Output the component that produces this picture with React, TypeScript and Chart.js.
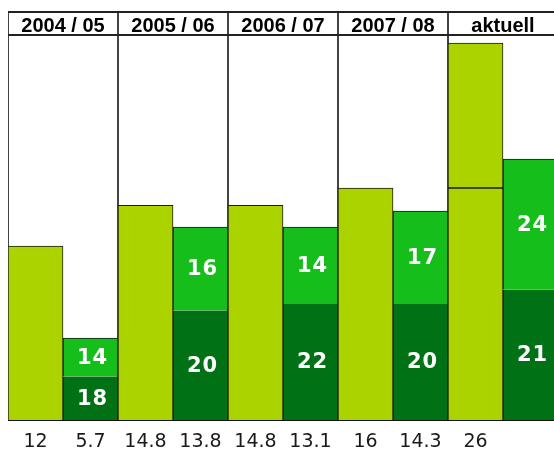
import React, { useEffect, useRef } from 'react';
import { Chart, registerables } from 'chart.js';

Chart.register(...registerables);

const seasons = ['2004 / 05', '2005 / 06', '2006 / 07', '2007 / 08', 'aktuell'];
const lightBase = [12, 14.8, 14.8, 16, 16];
const lightTop = [null, null, null, null, 10];
const darkValues = [3.0, 7.55, 8.0, 8.0, 9.0];
const mediumValues = [2.65, 5.75, 5.3, 6.4, 9.0];
const darkLabels = ['18', '20', '22', '20', '21'];
const mediumLabels = ['14', '16', '14', '17', '24'];
const bottomLabels = ['12', '5.7', '14.8', '13.8', '14.8', '13.1', '16', '14.3', '26', ''];
const yMax = 26.55;

const LIGHT = '#AAD300';
const MEDIUM = '#15BE1A';
const DARK = '#017115';
const EDGE = '#1a1a1a';

const headerLinePlugin = {
  id: 'headerLine',
  afterDraw(chart: any) {
    const s = chart.scales.x;
    const tl = s.options.grid.tickLength;
    const ctx = chart.ctx;
    ctx.save();
    ctx.strokeStyle = '#222';
    ctx.lineWidth = 2;
    ctx.beginPath();
    const y = Math.round(s.bottom - tl);
    ctx.moveTo(s.left, y);
    ctx.lineTo(s.right, y);
    ctx.stroke();
    ctx.restore();
  },
};

const segLabelPlugin = {
  id: 'segLabels',
  afterDatasetsDraw(chart: any) {
    const ctx = chart.ctx;
    ctx.save();
    ctx.fillStyle = '#ffffff';
    ctx.font = 'bold 21px "DejaVu Sans"';
    ctx.textAlign = 'center';
    ctx.textBaseline = 'middle';
    try { (ctx as any).letterSpacing = '1px'; } catch (e) {}
    const sets: [number, string[]][] = [[2, darkLabels], [3, mediumLabels]];
    for (const [di, labels] of sets) {
      const meta = chart.getDatasetMeta(di);
      meta.data.forEach((el: any, i: number) => {
        const t = labels[i];
        if (!t) return;
        ctx.fillText(t, el.x + 2, (el.y + el.base) / 2 + 1);
      });
    }
    ctx.restore();
  },
};

export default function App() {
  const ref = useRef<HTMLCanvasElement | null>(null);
  useEffect(() => {
    if (!ref.current) return;
    const chart = new Chart(ref.current, {
      type: 'bar',
      data: {
        labels: seasons,
        datasets: [
          {
            label: 'a',
            data: lightBase,
            stack: 'a',
            backgroundColor: LIGHT,
            borderColor: EDGE,
            borderWidth: { top: 1, left: 1, right: 1, bottom: 0 },
            borderSkipped: false,
            categoryPercentage: 1,
            barPercentage: 1,
            xAxisID: 'x',
          },
          {
            label: 'a2',
            data: lightTop,
            stack: 'a',
            backgroundColor: LIGHT,
            borderColor: EDGE,
            borderWidth: { top: 1, left: 1, right: 1, bottom: 1 },
            borderSkipped: false,
            categoryPercentage: 1,
            barPercentage: 1,
            xAxisID: 'x',
          },
          {
            label: 'd',
            data: darkValues,
            stack: 'b',
            backgroundColor: DARK,
            borderColor: EDGE,
            borderWidth: { top: 0, left: 1, right: 1, bottom: 0 },
            borderSkipped: false,
            categoryPercentage: 1,
            barPercentage: 1,
            xAxisID: 'x',
          },
          {
            label: 'm',
            data: mediumValues,
            stack: 'b',
            backgroundColor: MEDIUM,
            borderColor: EDGE,
            borderWidth: { top: 1, left: 1, right: 1, bottom: 0 },
            borderSkipped: false,
            categoryPercentage: 1,
            barPercentage: 1,
            xAxisID: 'x',
          },
        ] as any,
      },
      options: {
        animation: false,
        responsive: false,
        maintainAspectRatio: false,
        devicePixelRatio: 1,
        layout: { padding: { top: 9, left: 0, right: 0, bottom: 0 } },
        plugins: { legend: { display: false }, tooltip: { enabled: false }, title: { display: false } },
        scales: {
          x: {
            type: 'category',
            position: 'top',
            offset: true,
            grid: {
              display: true,
              offset: true,
              drawOnChartArea: true,
              drawTicks: true,
              tickLength: 23,
              color: '#444',
              lineWidth: 2,
            },
            border: { display: true, color: '#222', width: 2 },
            ticks: {
              autoSkip: false,
              maxRotation: 0,
              minRotation: 0,
              crossAlign: 'center',
              padding: -14,
              color: '#000',
              font: { family: '"Liberation Sans", Arial, sans-serif', size: 20, weight: 'bold', lineHeight: '23px' },
            },
          },
          xb: {
            type: 'category',
            position: 'bottom',
            labels: bottomLabels,
            offset: true,
            z: 1,
            grid: { display: false, drawTicks: false, offset: true },
            border: { display: true, color: '#111', width: 2 },
            ticks: {
              autoSkip: false,
              maxRotation: 0,
              minRotation: 0,
              padding: 10.6,
              color: '#1a1a1a',
              font: { family: '"DejaVu Sans", sans-serif', size: 19, lineHeight: 1.2 },
            },
          },
          y: {
            display: false,
            stacked: true,
            min: 0,
            max: yMax,
          },
        },
      } as any,
      plugins: [headerLinePlugin, segLabelPlugin],
    });
    return () => chart.destroy();
  }, []);
  return (
    <div style={{ position: 'absolute', left: 8, top: 8, width: 546, height: 443, overflow: 'hidden' }}>
      <canvas ref={ref} width={550} height={456} style={{ display: 'block', width: 550, height: 456 }} />
    </div>
  );
}
